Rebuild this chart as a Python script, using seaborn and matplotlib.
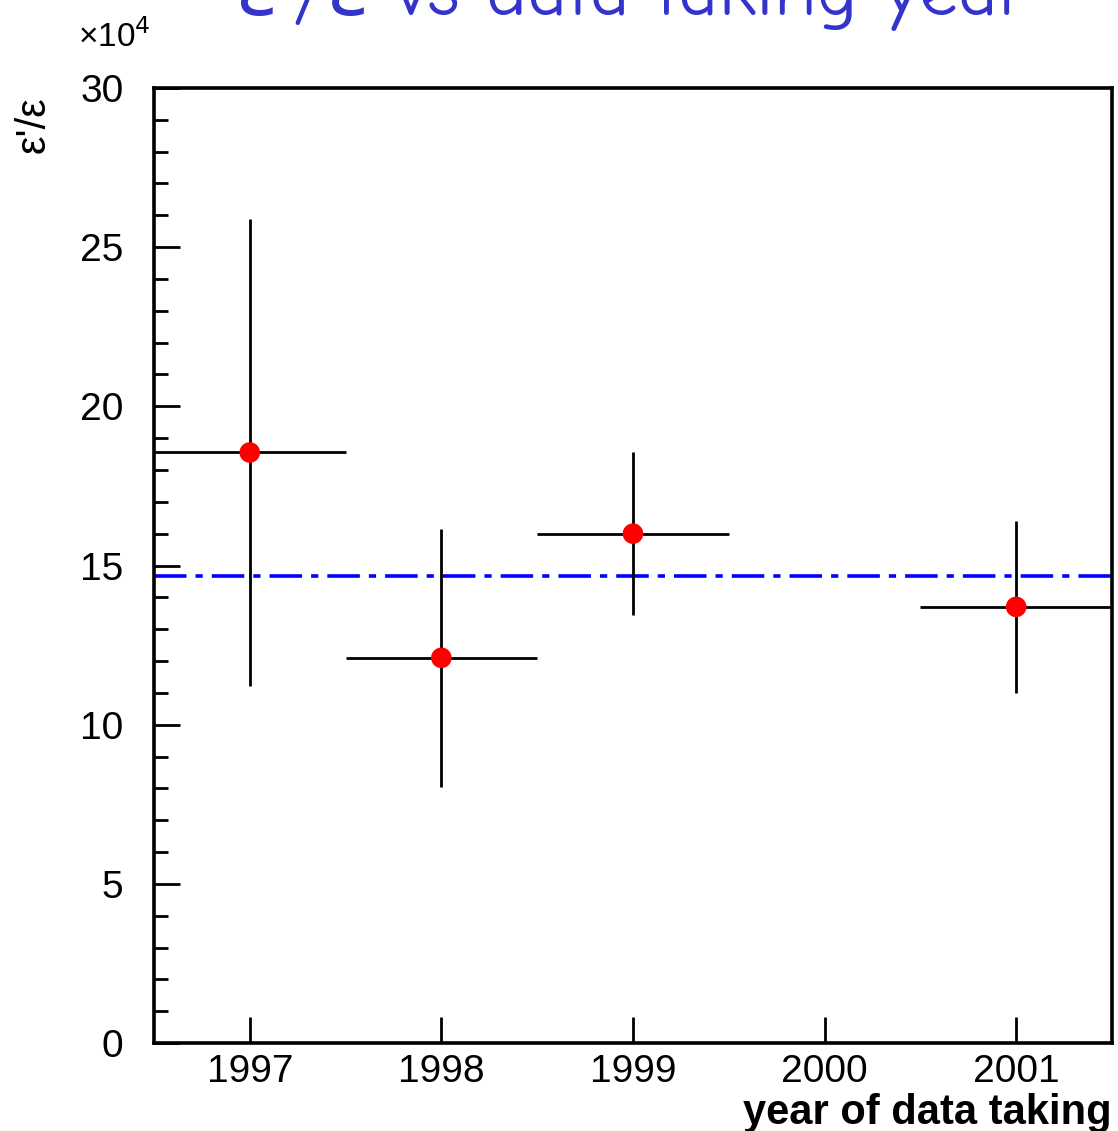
import numpy as np
import pandas as pd
import matplotlib
matplotlib.use("Agg")
import matplotlib.pyplot as plt
import seaborn as sns
from matplotlib.ticker import MultipleLocator

# data (units of 1e-4)
years = [1997, 1998, 1999, 2001]
eps_ratio = [18.55, 12.1, 16.0, 13.7]
eps_err = [7.35, 4.05, 2.55, 2.7]
year_halfwidth = [0.5, 0.5, 0.5, 0.5]
mean_value = 14.68
year_ticks = [1997, 1998, 1999, 2000, 2001]

df = pd.DataFrame({"year": years, "eps": eps_ratio, "err": eps_err, "xerr": year_halfwidth})

sns.set_style("ticks")
plt.rcParams["font.family"] = ["Liberation Sans", "DejaVu Sans"]
plt.rcParams["text.color"] = "black"
plt.rcParams["xtick.color"] = "black"
plt.rcParams["ytick.color"] = "black"

fig = plt.figure(figsize=(11.18, 11.31), dpi=100)
ax = fig.add_axes([0.1377, 0.0778, 0.8569, 0.8444])

# error crosses
ax.errorbar(df["year"], df["eps"], yerr=df["err"], xerr=df["xerr"],
            fmt="none", ecolor="black", elinewidth=2.0, capsize=0, zorder=2)
sns.scatterplot(data=df, x="year", y="eps", ax=ax, color="red", marker="o",
                s=220, edgecolor="none", zorder=3)

# average line
ax.axhline(mean_value, color="blue", lw=2.6, dashes=(9, 2.5, 2, 2.5), zorder=1)

ax.set_xlim(1996.5, 2001.5)
ax.set_ylim(0, 30)
ax.set_xticks(year_ticks)
ax.set_xticklabels([str(y) for y in year_ticks])
ax.yaxis.set_major_locator(MultipleLocator(5))
ax.yaxis.set_minor_locator(MultipleLocator(1))
ax.tick_params(axis="both", which="major", direction="in", length=19, width=2,
               labelsize=28, pad=8, top=False, right=False, labelcolor="black")
ax.tick_params(axis="y", which="minor", direction="in", length=10, width=2)
ax.tick_params(axis="y", which="major", pad=22)

for sp in ax.spines.values():
    sp.set_visible(True)
    sp.set_linewidth(2.6)
    sp.set_color("black")

ax.set_xlabel("")
ax.set_ylabel("")
fig.text(0.9946, 1 - 1124 / 1131, "year of data taking", ha="right",
         va="baseline", fontsize=30, fontweight="bold")
fig.text(0.03, 0.89, "ε'/ε", rotation=90, ha="center", va="center", fontsize=30)
fig.text(0.07, 0.968, "×10$^{4}$", ha="left", va="center", fontsize=24)

# title, partly cut off at the top like the original
fig.text(0.566, 1 - 15 / 1131, "ε'/ε vs data taking year", ha="center",
         va="baseline", fontsize=56, color="#3434cc",
         family=["Comic Neue", "DejaVu Sans"])

fig.savefig("out.png", dpi=100)
